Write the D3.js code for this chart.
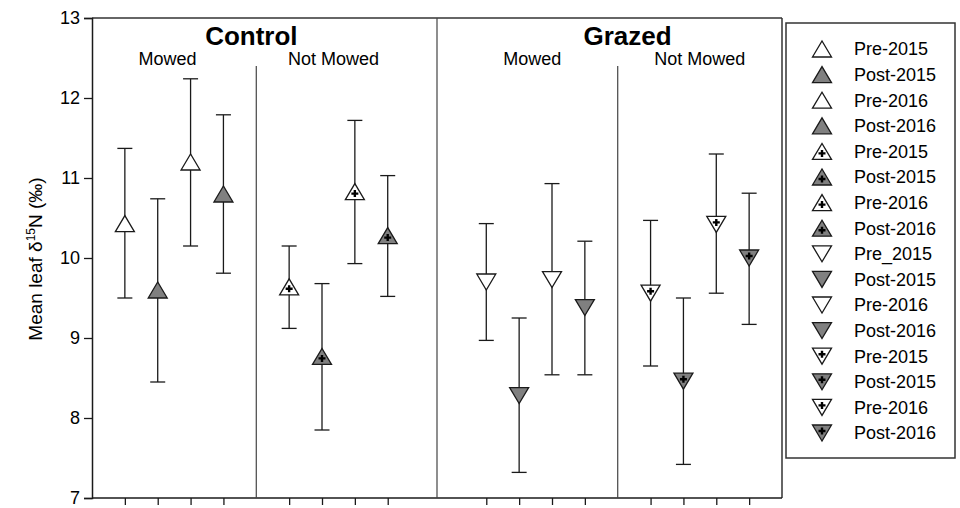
<!DOCTYPE html>
<html><head><meta charset="utf-8">
<script src="https://cdn.jsdelivr.net/npm/d3@7/dist/d3.min.js"></script>
<style>
body{margin:0;background:#fff;}
svg{display:block;font-family:"Liberation Sans",Arial,Helvetica,sans-serif;}
</style></head>
<body>
<svg id="chart" width="960" height="508"></svg>
<script>
// ---- data ----
const positions = [1,2,3,4, 6,7,8,9, 12,13,14,15, 17,18,19,20];
const means  = [10.43, 9.60, 11.20, 10.80, 9.64, 8.77, 10.83, 10.28, 9.70, 8.28, 9.73, 9.38, 9.56, 8.46, 10.42, 10.00];
const upper  = [11.37, 10.74, 12.24, 11.79, 10.15, 9.68, 11.72, 11.03, 10.43, 9.25, 10.93, 10.21, 10.47, 9.50, 11.30, 10.81];
const lower  = [9.50, 8.45, 10.15, 9.81, 9.12, 7.85, 9.93, 9.52, 8.97, 7.32, 8.54, 8.54, 8.65, 7.42, 9.56, 9.17];
const shapes = ["up","up","up","up","up","up","up","up","down","down","down","down","down","down","down","down"];
const fills  = ["open","grey","open","grey","open","grey","open","grey","open","grey","open","grey","open","grey","open","grey"];
const crosses= [false,false,false,false,true,true,true,true,false,false,false,false,true,true,true,true];
const legendLabels = ["Pre-2015","Post-2015","Pre-2016","Post-2016","Pre-2015","Post-2015","Pre-2016","Post-2016",
                      "Pre_2015","Post-2015","Pre-2016","Post-2016","Pre-2015","Post-2015","Pre-2016","Post-2016"];
const yTicks = [7,8,9,10,11,12,13];
const groupLabels = [{t:"Control", x:4.85}, {t:"Grazed", x:16.3}];
const subLabels = [{t:"Mowed", x:2.3}, {t:"Not Mowed", x:7.35}, {t:"Mowed", x:13.4}, {t:"Not Mowed", x:18.5}];
const dividers = [{x:5, top:12.4}, {x:10.5, top:13}, {x:16, top:12.4}];

// ---- layout ----
const svg = d3.select("#chart");
const L = 92, R = 782, T = 18, B = 498;
const x = d3.scaleLinear().domain([0,21]).range([L,R]);
const y = d3.scaleLinear().domain([7,13]).range([B,T]);
const ink = "#1a1a1a";
const grey = "#808080";

function tri(w,h,down){
  const hw=w/2, hh=h/2;
  return down ? `M${-hw},${-hh}L${hw},${-hh}L0,${hh}Z` : `M${-hw},${hh}L${hw},${hh}L0,${-hh}Z`;
}
function drawMarker(g, shape, fill, cross){
  const down = shape==="down";
  g.append("path").attr("d", tri(19,16,down))
    .attr("fill", fill==="grey"?grey:"#fff").attr("stroke", ink).attr("stroke-width",1.3)
    .attr("stroke-linejoin","miter");
  if(cross){
    const cy = down ? -2 : 2;
    g.append("path").attr("d",`M-3.5,${cy}H3.5M0,${cy-3.5}V${cy+3.5}`)
      .attr("stroke","#000").attr("stroke-width",2.4);
  }
}

// frame
svg.append("line").attr("x1",L).attr("x2",R).attr("y1",T).attr("y2",T).attr("stroke","#333").attr("stroke-width",1.5);
svg.append("line").attr("x1",R).attr("x2",R).attr("y1",T).attr("y2",B).attr("stroke","#333").attr("stroke-width",1.5);

// axes
const yAxis = d3.axisLeft(y).tickValues(yTicks).tickSize(8).tickPadding(4).tickFormat(d3.format("d"));
const gy = svg.append("g").attr("transform",`translate(${L},0)`).call(yAxis);
gy.select(".domain").attr("stroke",ink).attr("stroke-width",1.5);
gy.selectAll(".tick line").attr("stroke",ink).attr("stroke-width",1.3);
gy.selectAll(".tick text").attr("font-size",18).attr("fill","#000").attr("font-family","Liberation Sans, Arial, sans-serif");

const xAxis = d3.axisBottom(x).tickValues(positions).tickSize(7).tickFormat("");
const gx = svg.append("g").attr("transform",`translate(0,${B})`).call(xAxis);
gx.select(".domain").attr("stroke",ink).attr("stroke-width",1.5).attr("d",`M${L},0H${R}`);
gx.selectAll(".tick line").attr("stroke",ink).attr("stroke-width",1.3);

// y title
svg.append("text").attr("transform",`translate(42,259) rotate(-90)`).attr("text-anchor","middle")
  .attr("font-size",19).attr("fill","#000")
  .call(t=>{ t.append("tspan").text("Mean leaf \u03B4");
            t.append("tspan").text("15").attr("font-size",12).attr("dy",-7);
            t.append("tspan").text("N (\u2030)").attr("dy",7); });

// dividers
svg.selectAll(".div").data(dividers).join("line")
  .attr("x1",d=>x(d.x)).attr("x2",d=>x(d.x)).attr("y1",d=>y(d.top)).attr("y2",B)
  .attr("stroke","#444").attr("stroke-width",1.2);

// group labels
svg.selectAll(".grp").data(groupLabels).join("text")
  .attr("x",d=>x(d.x)).attr("y",45).attr("text-anchor","middle")
  .attr("font-size",26).attr("font-weight","bold").attr("fill","#000").text(d=>d.t);
svg.selectAll(".sub").data(subLabels).join("text")
  .attr("x",d=>x(d.x)).attr("y",65).attr("text-anchor","middle")
  .attr("font-size",18).attr("fill","#000").text(d=>d.t);

// error bars & markers
const pts = positions.map((p,i)=>({p, m:means[i], u:upper[i], l:lower[i], s:shapes[i], f:fills[i], c:crosses[i]}));
const eb = svg.append("g");
pts.forEach(d=>{
  eb.append("line").attr("x1",x(d.p)).attr("x2",x(d.p)).attr("y1",y(d.u)).attr("y2",y(d.l)).attr("stroke",ink).attr("stroke-width",1.3);
  [d.u,d.l].forEach(v=> eb.append("line").attr("x1",x(d.p)-7.5).attr("x2",x(d.p)+7.5).attr("y1",y(v)).attr("y2",y(v)).attr("stroke",ink).attr("stroke-width",1.3));
});
pts.forEach(d=>{
  const g = svg.append("g").attr("transform",`translate(${x(d.p)},${y(d.m)})`);
  drawMarker(g,d.s,d.f,d.c);
});

// legend
const lg = svg.append("g");
lg.append("rect").attr("x",786).attr("y",23).attr("width",169).attr("height",435)
  .attr("fill","#fff").attr("stroke","#333").attr("stroke-width",1.5);
const ly = d3.scaleLinear().domain([0,15]).range([49,433]);
legendLabels.forEach((lab,i)=>{
  const g = lg.append("g").attr("transform",`translate(822,${ly(i)})`);
  drawMarker(g, shapes[i], fills[i], crosses[i]);
  lg.append("text").attr("x",854).attr("y",ly(i)).attr("dy","0.36em").attr("font-size",18).attr("fill","#000").text(lab);
});
</script>
</body></html>
